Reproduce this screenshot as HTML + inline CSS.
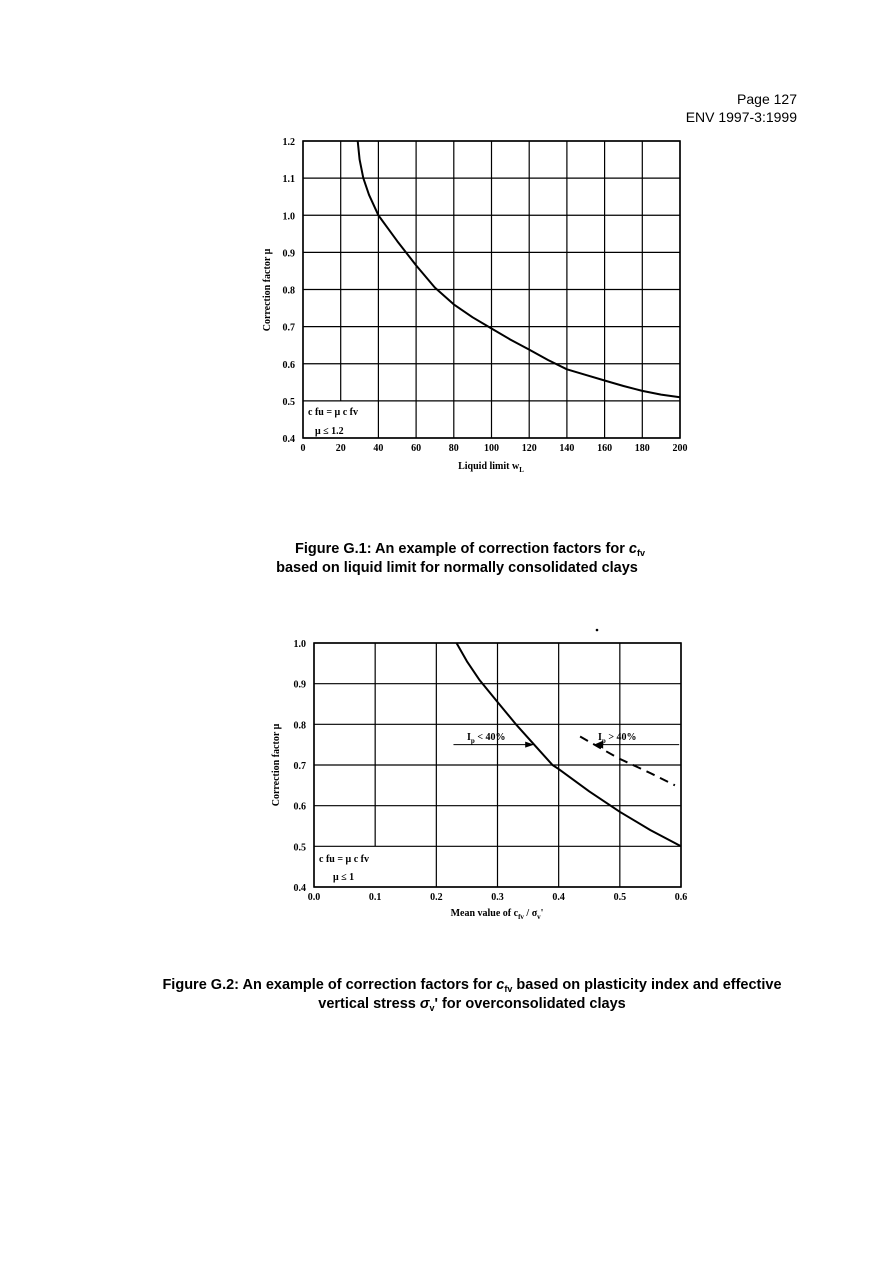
<!DOCTYPE html>
<html><head><meta charset="utf-8"><style>
html,body{margin:0;padding:0;background:#fff;}
svg{display:block;}
text{font-family:"Liberation Sans",sans-serif;}
.t{font-family:"Liberation Serif",serif;font-weight:bold;font-size:10px;}
.cap{font-weight:bold;font-size:14.5px;}
</style></head><body>
<svg id="pg" width="893" height="1263" viewBox="0 0 893 1263" xmlns="http://www.w3.org/2000/svg">
<text x="797" y="104" text-anchor="end" font-size="14">Page 127</text>
<text x="797" y="122" text-anchor="end" font-size="14">ENV 1997-3:1999</text>
<g id="c1"></g>
<g id="c2"></g>
<text x="470" y="553" text-anchor="middle" class="cap">Figure G.1: An example of correction factors for <tspan font-style="italic">c</tspan><tspan font-size="9" dy="3">fv</tspan></text>
<text x="457" y="572" text-anchor="middle" class="cap">based on liquid limit for normally consolidated clays</text>
<text x="472" y="989" text-anchor="middle" class="cap">Figure G.2: An example of correction factors for <tspan font-style="italic">c</tspan><tspan font-size="9" dy="3">fv</tspan><tspan dy="-3"> based on plasticity index and effective</tspan></text>
<text x="472" y="1008" text-anchor="middle" class="cap">vertical stress <tspan font-style="italic">σ</tspan><tspan font-size="9" dy="3">v</tspan><tspan dy="-3">' for overconsolidated clays</tspan></text>
<circle cx="597" cy="630" r="1.3" fill="#000"/>
</svg>
<script>
// Chart G.1 data
const g1XTicks = [0,20,40,60,80,100,120,140,160,180,200];
const g1YTicks = [0.4,0.5,0.6,0.7,0.8,0.9,1.0,1.1,1.2];
const g1CurveX = [29,30,32,35,40,45,50,60,70,80,90,100,110,120,130,140,150,160,170,180,190,200];
const g1CurveY = [1.2,1.15,1.1,1.055,1.0,0.965,0.93,0.865,0.805,0.76,0.725,0.695,0.665,0.638,0.61,0.585,0.57,0.555,0.54,0.527,0.517,0.51];
// Chart G.2 data
const g2XTicks = [0.0,0.1,0.2,0.3,0.4,0.5,0.6];
const g2YTicks = [0.4,0.5,0.6,0.7,0.8,0.9,1.0];
const g2CurveX = [0.233,0.25,0.27,0.30,0.33,0.36,0.39,0.40,0.45,0.50,0.55,0.60];
const g2CurveY = [1.0,0.955,0.91,0.855,0.8,0.75,0.70,0.69,0.635,0.585,0.54,0.50];
const g2DashX = [0.435,0.47,0.50,0.55,0.59];
const g2DashY = [0.77,0.74,0.715,0.68,0.65];

const NS="http://www.w3.org/2000/svg";
function mk(parent,tag,attrs,txt){const e=document.createElementNS(NS,tag);for(const k in attrs)e.setAttribute(k,attrs[k]);if(txt!==undefined)e.textContent=txt;parent.appendChild(e);return e;}

function chart(g,o){
  const sx=v=>o.x0+(v-o.xmin)/(o.xmax-o.xmin)*(o.x1-o.x0);
  const sy=v=>o.y1-(v-o.ymin)/(o.ymax-o.ymin)*(o.y1-o.y0);
  o.xt.forEach((v,i)=>{
    const top=sy(o.ymax), bot=(i===1)?sy(o.ymin+0.1):sy(o.ymin);
    const l=mk(g,'line',{x1:sx(v),x2:sx(v),y1:top,y2:bot,stroke:'#000','stroke-width':1.2});
    
    
    const t=mk(g,'text',{x:sx(v),y:o.y1+13,'text-anchor':'middle',class:'t'},o.xfmt(v));
    
    
  });
  o.yt.forEach(v=>{
    const l=mk(g,'line',{x1:o.x0,x2:o.x1,y1:sy(v),y2:sy(v),stroke:'#000','stroke-width':1.2});
    
    
    const t=mk(g,'text',{x:o.x0-8,y:sy(v)+4,'text-anchor':'end',class:'t'},v.toFixed(1));
    
    
  });
  const fr=mk(g,'rect',{x:o.x0,y:o.y0,width:o.x1-o.x0,height:o.y1-o.y0,fill:'none',stroke:'#000','stroke-width':1.6});
  
  
  const p=o.cx.map((x,i)=>(i?'L':'M')+sx(x).toFixed(1)+','+sy(o.cy[i]).toFixed(1)).join(' ');
  const c=mk(g,'path',{d:p,fill:'none',stroke:'#000','stroke-width':2,'stroke-linejoin':'round'});
  
  
  return {sx,sy};
}
const g1=document.getElementById('c1');
const s1=chart(g1,{x0:303,x1:680,y0:141,y1:438,xmin:0,xmax:200,ymin:0.4,ymax:1.2,xt:g1XTicks,yt:g1YTicks,cx:g1CurveX,cy:g1CurveY,xfmt:v=>String(v)});
let e;
e=mk(g1,'text',{x:491,y:469,'text-anchor':'middle',class:'t'});


e.innerHTML='Liquid limit w<tspan font-size="7" dy="3">L</tspan>';
e=mk(g1,'text',{x:0,y:0,transform:'translate(270,290) rotate(-90)','text-anchor':'middle',class:'t'},'Correction factor μ');


e=mk(g1,'text',{x:308,y:415,class:'t'},'c fu = μ  c fv');


e=mk(g1,'text',{x:315,y:434,class:'t'},'μ ≤ 1.2');



const g2=document.getElementById('c2');
const s2=chart(g2,{x0:314,x1:681,y0:643,y1:887,xmin:0,xmax:0.6,ymin:0.4,ymax:1.0,xt:g2XTicks,yt:g2YTicks,cx:g2CurveX,cy:g2CurveY,xfmt:v=>v.toFixed(1)});
const dp=g2DashX.map((x,i)=>(i?'L':'M')+s2.sx(x).toFixed(1)+','+s2.sy(g2DashY[i]).toFixed(1)).join(' ');
e=mk(g2,'path',{d:dp,fill:'none',stroke:'#000','stroke-width':2,'stroke-dasharray':'9,6'});


e=mk(g2,'line',{x1:s2.sx(0.228),x2:s2.sx(0.35),y1:s2.sy(0.75),y2:s2.sy(0.75),stroke:'#000','stroke-width':1});


mk(g2,'path',{d:`M${s2.sx(0.36)},${s2.sy(0.75)} l-9,-3 l0,6 z`,fill:'#000'});
e=mk(g2,'line',{x1:s2.sx(0.597),x2:s2.sx(0.47),y1:s2.sy(0.75),y2:s2.sy(0.75),stroke:'#000','stroke-width':1});


mk(g2,'path',{d:`M${s2.sx(0.458)},${s2.sy(0.75)} l9,-4 l0,8 z`,fill:'#000'});
e=mk(g2,'text',{x:467,y:740,class:'t'});


e.innerHTML='I<tspan font-size="7" dy="3">p</tspan><tspan dy="-3"> &lt; 40%</tspan>';
e=mk(g2,'text',{x:598,y:740,class:'t'});


e.innerHTML='I<tspan font-size="7" dy="3">p</tspan><tspan dy="-3"> &gt; 40%</tspan>';
e=mk(g2,'text',{x:497,y:916,'text-anchor':'middle',class:'t'});


e.innerHTML='Mean value of c<tspan font-size="7" dy="3">fv</tspan><tspan dy="-3"> / σ</tspan><tspan font-size="7" dy="3">v</tspan><tspan dy="-3">\'</tspan>';
e=mk(g2,'text',{x:0,y:0,transform:'translate(279,765) rotate(-90)','text-anchor':'middle',class:'t'},'Correction factor μ');


e=mk(g2,'text',{x:319,y:862,class:'t'},'c fu = μ  c fv');


e=mk(g2,'text',{x:333,y:880,class:'t'},'μ ≤ 1');


</script>
</body></html>
